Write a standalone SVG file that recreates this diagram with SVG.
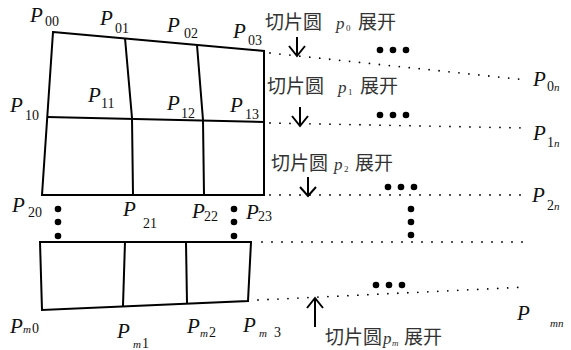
<svg xmlns="http://www.w3.org/2000/svg" width="571" height="350" viewBox="0 0 571 350">
<style>
.ln{fill:none;stroke:#000;stroke-width:2;stroke-linejoin:miter}
.dot{fill:none;stroke:#000;stroke-width:1.8;stroke-linecap:round;stroke-dasharray:0 10}
.arr{fill:none;stroke:#000;stroke-width:2}
.P{font-family:"Liberation Serif",serif;font-style:italic;font-size:21px;fill:#111}
.s{font-family:"Liberation Serif",serif;font-size:14px;fill:#111}
.si{font-family:"Liberation Serif",serif;font-style:italic;font-size:11px;fill:#111}
.cj{font-family:"Noto Sans CJK SC",sans-serif;font-size:19px;fill:#333}
.pp{font-family:"Liberation Serif",serif;font-style:italic;font-size:17px;fill:#333}
.ps{font-family:"Liberation Serif",serif;font-size:9px;fill:#333}
</style>
<g id="grid-top">
<path class="ln" d="M53,32 L264,51 L264,195 L42,195 Z"/>
<path class="ln" d="M47,117 L264,122"/>
<path class="ln" d="M125,38 L132,118 L133,195"/>
<path class="ln" d="M197,45 L203,120 L204,195"/>
</g>
<g id="grid-bottom">
<path class="ln" d="M40,242 L251,242 L248,301 L42,310 Z"/>
<path class="ln" d="M125,242 L123,306"/>
<path class="ln" d="M186,242 L187,303"/>
</g>
<g id="connectors">
<path class="dot" d="M270,53 L527,80"/>
<path class="dot" d="M270,123 L527,128"/>
<path class="dot" d="M270,195 L527,195"/>
<path class="dot" d="M262,242 L527,242"/>
<path class="dot" d="M258,300 L527,287"/>
<path class="arr" d="M297,37 L297,56 M289,46 L297,56 L305,46"/>
<path class="arr" d="M300,107 L300,126 M292,116 L300,126 L308,116"/>
<path class="arr" d="M308,177 L308,196 M300,187 L308,196 L316,187"/>
<path class="arr" d="M315,327 L315,298 M307,308 L315,298 L323,308"/>
</g>
<g id="ellipses" fill="#000">
<circle cx="58" cy="209" r="3.3"/><circle cx="58" cy="222" r="3.3"/><circle cx="58" cy="236" r="3.3"/>
<circle cx="234" cy="209" r="3.3"/><circle cx="234" cy="222" r="3.3"/><circle cx="234" cy="236" r="3.3"/>
<circle cx="380" cy="50" r="3.3"/><circle cx="393" cy="50" r="3.3"/><circle cx="406" cy="50" r="3.3"/>
<circle cx="380" cy="115" r="3.3"/><circle cx="393" cy="115" r="3.3"/><circle cx="406" cy="115" r="3.3"/>
<circle cx="388" cy="187" r="3.3"/><circle cx="401" cy="187" r="3.3"/><circle cx="414" cy="187" r="3.3"/>
<circle cx="411" cy="209" r="3.3"/><circle cx="411" cy="222" r="3.3"/><circle cx="411" cy="235" r="3.3"/>
<circle cx="376" cy="285" r="3.3"/><circle cx="389" cy="285" r="3.3"/><circle cx="402" cy="285" r="3.3"/>
</g>
<g id="labels-slice">
<text class="cj" x="265" y="29">切片圆</text><text class="pp" x="336" y="29">p</text><text class="ps" x="346" y="31">0</text><text class="cj" x="358" y="29">展开</text>
<text class="cj" x="267" y="93">切片圆</text><text class="pp" x="338" y="93">p</text><text class="ps" x="348" y="95">1</text><text class="cj" x="360" y="93">展开</text>
<text class="cj" x="271" y="170">切片圆</text><text class="pp" x="334" y="170">p</text><text class="ps" x="344" y="172">2</text><text class="cj" x="355" y="170">展开</text>
<text class="cj" x="325" y="344">切片圆</text><text class="pp" x="383" y="344">p</text><text class="ps" x="392" y="346" font-style="italic">m</text><text class="cj" x="404" y="344">展开</text>
</g>
<g id="labels-P">
<text class="P" x="30" y="22">P</text><text class="s" x="45" y="26">00</text>
<text class="P" x="100" y="25">P</text><text class="s" x="115" y="33">01</text>
<text class="P" x="167" y="32">P</text><text class="s" x="184" y="38">02</text>
<text class="P" x="233" y="38">P</text><text class="s" x="248" y="45" font-size="12">03</text>
<text class="P" x="10" y="112">P</text><text class="s" x="25" y="120">10</text>
<text class="P" x="88" y="102">P</text><text class="s" x="101" y="108" font-size="10">11</text>
<text class="P" x="167" y="110">P</text><text class="s" x="181" y="118">12</text>
<text class="P" x="230" y="112">P</text><text class="s" x="245" y="119">13</text>
<text class="P" x="12" y="212">P</text><text class="s" x="28" y="217">20</text>
<text class="P" x="123" y="216">P</text><text class="s" x="143" y="228">21</text>
<text class="P" x="192" y="218">P</text><text class="s" x="204" y="221" font-size="10">22</text>
<text class="P" x="246" y="219">P</text><text class="s" x="258" y="221" font-size="10">23</text>
<text class="P" x="10" y="333">P</text><text class="si" x="23" y="333">m</text><text class="s" x="32" y="333">0</text>
<text class="P" x="117" y="338">P</text><text class="si" x="133" y="348">m</text><text class="s" x="142" y="348">1</text>
<text class="P" x="187" y="333">P</text><text class="si" x="200" y="337">m</text><text class="s" x="209" y="337">2</text>
<text class="P" x="243" y="332">P</text><text class="si" x="259" y="337">m</text><text class="s" x="274" y="337">3</text>
<text class="P" x="533" y="86">P</text><text class="s" x="547" y="91" font-size="12">0</text><text class="si" x="554" y="91">n</text>
<text class="P" x="533" y="140">P</text><text class="s" x="547" y="147" font-size="12">1</text><text class="si" x="554" y="147">n</text>
<text class="P" x="532" y="202">P</text><text class="s" x="547" y="210" font-size="12">2</text><text class="si" x="554" y="210">n</text>
<text class="P" x="517" y="320">P</text><text class="si" x="550" y="327">mn</text>
</g>
</svg>
